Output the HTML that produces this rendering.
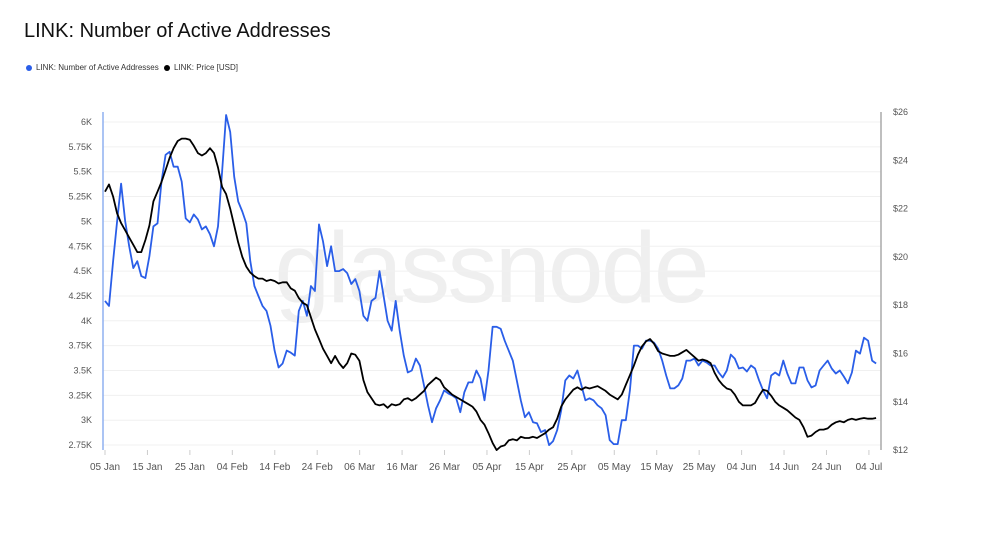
<!DOCTYPE html>
<html><head><meta charset="utf-8"><style>
body{margin:0;background:#fff;font-family:"Liberation Sans",sans-serif;}
#wrap{position:relative;width:984px;height:554px;overflow:hidden;}
h1{position:absolute;left:24px;top:20px;margin:0;font-size:20px;font-weight:normal;color:#111;}
.leg{position:absolute;top:63px;font-size:8px;color:#333;}
.dot{display:inline-block;width:6px;height:6px;border-radius:3px;margin-right:4px;vertical-align:middle;}
</style></head><body>
<div id="wrap">
<h1>LINK: Number of Active Addresses</h1>
<div class="leg" style="left:26px"><span class="dot" style="background:#2a5ee8"></span>LINK: Number of Active Addresses</div>
<div class="leg" style="left:164px"><span class="dot" style="background:#000"></span>LINK: Price [USD]</div>
<svg id="svg" width="984" height="554" style="position:absolute;left:0;top:0"></svg>
</div>
<script>
const xTickLabels=["05 Jan","15 Jan","25 Jan","04 Feb","14 Feb","24 Feb","06 Mar","16 Mar","26 Mar","05 Apr","15 Apr","25 Apr","05 May","15 May","25 May","04 Jun","14 Jun","24 Jun","04 Jul"];
const leftTicks=[2750,3000,3250,3500,3750,4000,4250,4500,4750,5000,5250,5500,5750,6000];
const leftTickLabels=["2.75K","3K","3.25K","3.5K","3.75K","4K","4.25K","4.5K","4.75K","5K","5.25K","5.5K","5.75K","6K"];
const rightTicks=[12,14,16,18,20,22,24,26];
const spanDays=181.7;
const activeAddressesK=[4.2,4.15,4.6,5.0,5.38,5.0,4.75,4.53,4.6,4.45,4.43,4.65,4.95,4.98,5.4,5.67,5.7,5.55,5.55,5.4,5.03,4.99,5.07,5.02,4.92,4.95,4.87,4.75,4.95,5.5,6.07,5.9,5.45,5.2,5.1,4.98,4.6,4.35,4.25,4.15,4.1,3.95,3.7,3.53,3.57,3.7,3.68,3.65,4.1,4.2,4.05,4.35,4.3,4.97,4.8,4.55,4.75,4.5,4.5,4.52,4.48,4.37,4.42,4.3,4.05,4.0,4.2,4.23,4.5,4.25,4.0,3.9,4.2,3.9,3.65,3.48,3.5,3.62,3.55,3.35,3.15,2.98,3.12,3.2,3.3,3.27,3.25,3.22,3.08,3.28,3.38,3.38,3.5,3.42,3.2,3.5,3.94,3.94,3.92,3.8,3.7,3.6,3.4,3.2,3.03,3.08,2.98,2.97,2.88,2.9,2.75,2.79,2.9,3.1,3.4,3.45,3.42,3.5,3.35,3.2,3.22,3.2,3.15,3.12,3.05,2.8,2.76,2.76,3.0,3.0,3.3,3.75,3.75,3.72,3.8,3.8,3.78,3.72,3.6,3.45,3.32,3.32,3.35,3.42,3.6,3.6,3.62,3.55,3.6,3.58,3.55,3.55,3.48,3.43,3.5,3.66,3.62,3.52,3.53,3.49,3.55,3.52,3.4,3.3,3.22,3.45,3.48,3.45,3.6,3.47,3.37,3.37,3.53,3.53,3.4,3.33,3.35,3.5,3.55,3.6,3.52,3.47,3.5,3.44,3.37,3.48,3.7,3.67,3.83,3.8,3.6,3.57];
const priceUSD=[22.7,23.0,22.5,21.8,21.4,21.1,20.8,20.5,20.2,20.2,20.7,21.3,22.3,22.7,23.1,23.6,24.1,24.5,24.8,24.9,24.9,24.85,24.6,24.3,24.2,24.3,24.5,24.3,23.7,22.9,22.6,22.0,21.3,20.6,20.0,19.6,19.35,19.2,19.1,19.1,19.0,19.05,19.0,18.9,18.95,18.95,18.7,18.6,18.3,18.1,18.0,17.5,17.0,16.6,16.2,15.9,15.6,15.9,15.6,15.4,15.6,16.0,15.95,15.7,14.9,14.4,14.15,13.9,13.85,13.9,13.75,13.9,13.85,13.9,14.1,14.15,14.05,14.15,14.3,14.45,14.7,14.85,15.0,14.9,14.6,14.45,14.3,14.2,14.1,14.0,13.9,13.8,13.6,13.25,13.05,12.7,12.3,12.0,12.15,12.2,12.4,12.45,12.4,12.55,12.5,12.5,12.55,12.5,12.6,12.7,12.85,12.95,13.3,13.8,14.1,14.3,14.5,14.6,14.5,14.6,14.55,14.6,14.65,14.55,14.45,14.3,14.2,14.1,14.3,14.7,15.1,15.5,15.95,16.3,16.5,16.6,16.4,16.1,16.0,15.95,15.9,15.9,15.95,16.05,16.15,16.0,15.85,15.7,15.75,15.7,15.6,15.2,14.9,14.7,14.55,14.5,14.3,14.0,13.85,13.85,13.85,13.95,14.25,14.5,14.45,14.25,14.0,13.85,13.75,13.65,13.5,13.35,13.25,12.95,12.55,12.6,12.75,12.85,12.85,12.9,13.05,13.15,13.2,13.15,13.25,13.3,13.25,13.3,13.33,13.3,13.3,13.33];
const NS="http://www.w3.org/2000/svg";
const svg=document.getElementById('svg');
const X0=105,PXD=4.244;
const xDay=d=>X0+d*PXD;
const yL=v=>122+(6000-v)/250*24.85;
const yR=v=>112+(26-v)/2*48.3;
function mk(t,a){const e=document.createElementNS(NS,t);for(const k in a)e.setAttribute(k,a[k]);svg.appendChild(e);return e;}
let wm=mk('text',{x:492,y:302,'text-anchor':'middle','font-size':100,fill:'#efefef','font-family':'Liberation Sans, sans-serif','textLength':435});
wm.textContent='glassnode';


leftTicks.forEach((v,i)=>{
  const g=mk('line',{x1:103,x2:881,y1:yL(v),y2:yL(v),stroke:'#f0f0f0','stroke-width':1});
  
  
  const t=mk('text',{x:92,y:yL(v)+3,'text-anchor':'end','font-size':9,fill:'#555'});
  t.textContent=leftTickLabels[i];
  
  
});
rightTicks.forEach(v=>{
  const t=mk('text',{x:893,y:yR(v)+3,'font-size':9,fill:'#555'});
  t.textContent='$'+v;
  
  
});
xTickLabels.forEach((l,i)=>{
  const x=xDay(i*10);
  const tk=mk('line',{x1:x,x2:x,y1:450,y2:455,stroke:'#ccc'});
  
  
  const t=mk('text',{x:x,y:470,'text-anchor':'middle','font-size':10,fill:'#555'});
  t.textContent=l;
  
  
});
const la=mk('line',{x1:103,x2:103,y1:112,y2:450,stroke:'#8fb0f0','stroke-width':1.5});


const ra=mk('line',{x1:881,x2:881,y1:112,y2:450,stroke:'#aaa','stroke-width':1.5});


function path(arr,yf,scale,color,name){
  const n=arr.length;
  const d=arr.map((v,i)=>(i?'L':'M')+xDay(i*spanDays/(n-1)).toFixed(1)+','+yf(v*scale).toFixed(1)).join('');
  const p=mk('path',{d:d,fill:'none',stroke:color,'stroke-width':1.8,'stroke-linejoin':'round'});
  
  
}
path(activeAddressesK,yL,1000,'#2a5ee8','active-addresses-line');
path(priceUSD,yR,1,'#000','price-line');
</script>
</body></html>
